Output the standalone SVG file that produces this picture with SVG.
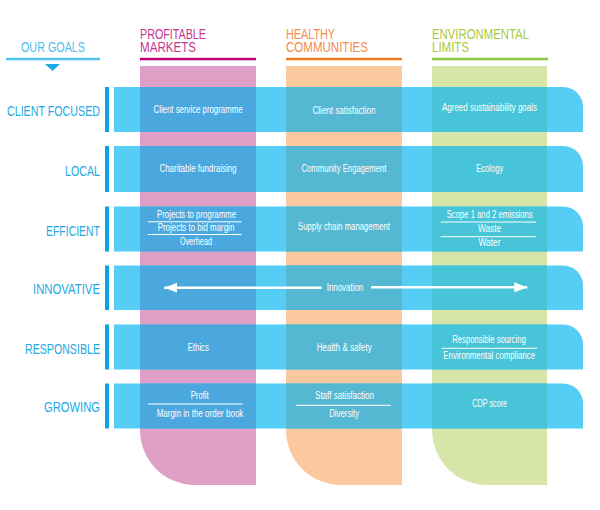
<svg xmlns="http://www.w3.org/2000/svg" width="600" height="510" viewBox="0 0 600 510">
<style>
text{font-family:"Liberation Sans Narrow","Liberation Sans",Arial,sans-serif}
.hd{font-size:15px}
.lbl{font-size:14.5px;fill:#1ea9e3;text-anchor:end}
.t{font-size:10px;fill:#ffffff;text-anchor:middle}
.band{fill:#55cdf5}
.bar{fill:#0aa3e2}
.sep{stroke:#ffffff;stroke-width:1}
.arr{stroke:#ffffff;stroke-width:2.6;fill:none}
</style>
<defs>
<clipPath id="bandsClip">
<rect x="114" y="87" width="470" height="45"/>
<rect x="114" y="146" width="470" height="46"/>
<rect x="114" y="206.5" width="470" height="45"/>
<rect x="114" y="265.5" width="470" height="44.5"/>
<rect x="114" y="324.5" width="470" height="45"/>
<rect x="114" y="383.5" width="470" height="45"/>
</clipPath>
<marker id="ah" viewBox="0 0 13 10" refX="13" refY="5" markerWidth="13" markerHeight="10" markerUnits="userSpaceOnUse" orient="auto">
<path d="M0,0 L13,5 L0,10 Z" fill="#ffffff"/>
</marker>
</defs>

<g id="our-goals">
<text x="21" y="52.3" class="hd" fill="#4dbfee" textLength="64" lengthAdjust="spacingAndGlyphs">OUR GOALS</text>
<rect x="6" y="57.8" width="94" height="2.5" fill="#4fc3f0"/>
<path d="M45,64 L60,64 L52.5,71 Z" fill="#1ea9e3"/>
</g>

<g id="col-profitable">
<text class="hd" fill="#c8358f"><tspan x="140" y="38.7" textLength="66" lengthAdjust="spacingAndGlyphs">PROFITABLE</tspan><tspan x="140" y="52.3" textLength="56" lengthAdjust="spacingAndGlyphs">MARKETS</tspan></text>
<rect x="140" y="57.8" width="116" height="2.5" fill="#c0007a"/>
<path d="M140,66 H256 V485 H195 A55,55 0 0 1 140,430 Z" fill="#e09fc6"/>
</g>
<g id="col-healthy">
<text class="hd" fill="#f58b4c"><tspan x="286" y="38.7" textLength="49" lengthAdjust="spacingAndGlyphs">HEALTHY</tspan><tspan x="286" y="52.3" textLength="82" lengthAdjust="spacingAndGlyphs">COMMUNITIES</tspan></text>
<rect x="286" y="57.8" width="116" height="2.5" fill="#f47b20"/>
<path d="M286,66 H402 V485 H341 A55,55 0 0 1 286,430 Z" fill="#fcc89d"/>
</g>
<g id="col-environmental">
<text class="hd" fill="#a8ca3c"><tspan x="432" y="38.7" textLength="97" lengthAdjust="spacingAndGlyphs">ENVIRONMENTAL</tspan><tspan x="432" y="52.3" textLength="37" lengthAdjust="spacingAndGlyphs">LIMITS</tspan></text>
<rect x="432" y="57.8" width="116" height="2.5" fill="#8dc63f"/>
<path d="M432,66 H547 V485 H487 A55,55 0 0 1 432,430 Z" fill="#d7e6a8"/>
</g>

<g id="bands">
<path class="band" d="M114,87 H563 A20,20 0 0 1 583,107 V132 H114 Z"/>
<path class="band" d="M114,146 H563 A20,20 0 0 1 583,166 V192 H114 Z"/>
<path class="band" d="M114,206.5 H563 A20,20 0 0 1 583,226.5 V251.5 H114 Z"/>
<path class="band" d="M114,265.5 H563 A20,20 0 0 1 583,285.5 V310 H114 Z"/>
<path class="band" d="M114,324.5 H563 A20,20 0 0 1 583,344.5 V369.5 H114 Z"/>
<path class="band" d="M114,383.5 H563 A20,20 0 0 1 583,403.5 V428.5 H114 Z"/>
<g clip-path="url(#bandsClip)">
<rect x="140" y="66" width="116" height="420" fill="#4aa8df"/>
<rect x="286" y="66" width="116" height="420" fill="#55b8d2"/>
<rect x="432" y="66" width="115" height="420" fill="#47c4d8"/>
</g>
</g>

<g id="row-client-focused">
<rect class="bar" x="105" y="87" width="4" height="45"/>
<text class="lbl" x="100" y="116" textLength="93" lengthAdjust="spacingAndGlyphs">CLIENT FOCUSED</text>
<text class="t" x="198" y="113" textLength="89" lengthAdjust="spacingAndGlyphs">Client service programme</text>
<text class="t" x="344" y="113.8" textLength="63" lengthAdjust="spacingAndGlyphs">Client satisfaction</text>
<text class="t" x="489.5" y="111" textLength="95" lengthAdjust="spacingAndGlyphs">Agreed sustainability goals</text>
</g>

<g id="row-local">
<rect class="bar" x="105" y="146" width="4" height="46"/>
<text class="lbl" x="100" y="175.7" textLength="35" lengthAdjust="spacingAndGlyphs">LOCAL</text>
<text class="t" x="198" y="172" textLength="77" lengthAdjust="spacingAndGlyphs">Charitable fundraising</text>
<text class="t" x="344" y="172" textLength="85" lengthAdjust="spacingAndGlyphs">Community Engagement</text>
<text class="t" x="489.7" y="172" textLength="27" lengthAdjust="spacingAndGlyphs">Ecology</text>
</g>

<g id="row-efficient">
<rect class="bar" x="105" y="206.5" width="4" height="45"/>
<text class="lbl" x="100" y="236" textLength="54" lengthAdjust="spacingAndGlyphs">EFFICIENT</text>
<text class="t" x="196.5" y="217.5" textLength="79" lengthAdjust="spacingAndGlyphs">Projects to programme</text>
<line class="sep" x1="147.7" y1="221.8" x2="241.7" y2="221.8"/>
<text class="t" x="196" y="231.3" textLength="76.6" lengthAdjust="spacingAndGlyphs">Projects to bid margin</text>
<line class="sep" x1="147.7" y1="234.5" x2="241.7" y2="234.5"/>
<text class="t" x="196" y="245" textLength="32" lengthAdjust="spacingAndGlyphs">Overhead</text>
<text class="t" x="344" y="229.5" textLength="92" lengthAdjust="spacingAndGlyphs">Supply chain management</text>
<text class="t" x="489.7" y="217.5" textLength="86" lengthAdjust="spacingAndGlyphs">Scope 1 and 2 emissions</text>
<line class="sep" x1="440.7" y1="222" x2="536" y2="222"/>
<text class="t" x="489.5" y="232.3" textLength="23" lengthAdjust="spacingAndGlyphs">Waste</text>
<line class="sep" x1="440.7" y1="236.7" x2="536" y2="236.7"/>
<text class="t" x="489.5" y="246" textLength="22" lengthAdjust="spacingAndGlyphs">Water</text>
</g>

<g id="row-innovative">
<rect class="bar" x="105" y="265.5" width="4" height="44.5"/>
<text class="lbl" x="100" y="294" textLength="67" lengthAdjust="spacingAndGlyphs">INNOVATIVE</text>
<text class="t" x="345" y="290.5" textLength="36.6" lengthAdjust="spacingAndGlyphs">Innovation</text>
</g>

<g id="connectors">
<line class="arr" x1="321.7" y1="287.7" x2="164.3" y2="287.7" marker-end="url(#ah)"/>
<line class="arr" x1="371" y1="287.3" x2="527.3" y2="287.3" marker-end="url(#ah)"/>
</g>

<g id="row-responsible">
<rect class="bar" x="105" y="324.5" width="4" height="45"/>
<text class="lbl" x="100" y="353.7" textLength="75" lengthAdjust="spacingAndGlyphs">RESPONSIBLE</text>
<text class="t" x="198.3" y="351" textLength="21.3" lengthAdjust="spacingAndGlyphs">Ethics</text>
<text class="t" x="344.2" y="351" textLength="55" lengthAdjust="spacingAndGlyphs">Health &amp; safety</text>
<text class="t" x="489" y="343" textLength="73.4" lengthAdjust="spacingAndGlyphs">Responsible sourcing</text>
<line class="sep" x1="441.7" y1="348.3" x2="537.3" y2="348.3"/>
<text class="t" x="489.2" y="359" textLength="91.7" lengthAdjust="spacingAndGlyphs">Environmental compliance</text>
</g>

<g id="row-growing">
<rect class="bar" x="105" y="383.5" width="4" height="45"/>
<text class="lbl" x="100" y="411.7" textLength="56" lengthAdjust="spacingAndGlyphs">GROWING</text>
<text class="t" x="199.7" y="399.3" textLength="18" lengthAdjust="spacingAndGlyphs">Profit</text>
<line class="sep" x1="147.7" y1="404" x2="242.7" y2="404"/>
<text class="t" x="200" y="416.5" textLength="86.7" lengthAdjust="spacingAndGlyphs">Margin in the order book</text>
<text class="t" x="344.5" y="399.3" textLength="59" lengthAdjust="spacingAndGlyphs">Staff satisfaction</text>
<line class="sep" x1="296" y1="405.3" x2="391" y2="405.3"/>
<text class="t" x="344.2" y="416.5" textLength="30" lengthAdjust="spacingAndGlyphs">Diversity</text>
<text class="t" x="489.7" y="407" textLength="34.7" lengthAdjust="spacingAndGlyphs">CDP score</text>
</g>
</svg>
